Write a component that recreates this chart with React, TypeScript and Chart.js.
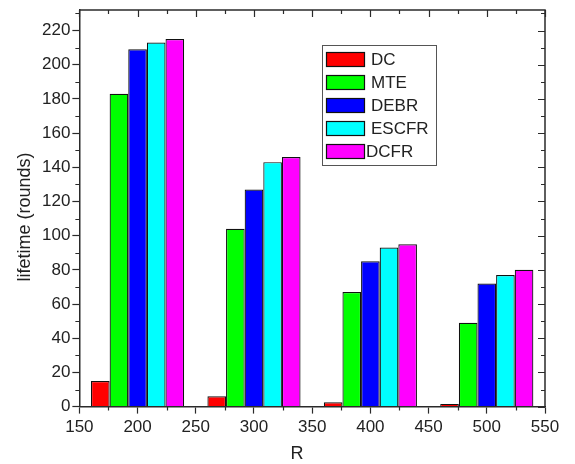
import React, { useEffect, useRef } from 'react';
import { Chart, registerables } from 'chart.js';

Chart.register(...registerables);

// ---- data ----
const R_VALUES = ['200', '300', '400', '500'];
const SERIES_NAMES = ['DC', 'MTE', 'DEBR', 'ESCFR', 'DCFR'];
const DC = [15, 6, 2.5, 1.5];
const MTE = [183, 104, 67, 49];
const DEBR = [209, 127, 85, 72];
const ESCFR = [213, 143, 93, 77];
const DCFR = [215, 146, 95, 80];
const SERIES_VALUES = [DC, MTE, DEBR, ESCFR, DCFR];
const SERIES_COLORS = ['#ff0000', '#00ff00', '#0000ff', '#00ffff', '#ff00ff'];

const X_TICKS = [150, 200, 250, 300, 350, 400, 450, 500, 550];
const X_MINOR = [175, 225, 275, 325, 375, 425, 475, 525];
const Y_TICKS = [0, 20, 40, 60, 80, 100, 120, 140, 160, 180, 200, 220];
const Y_MINOR = [10, 30, 50, 70, 90, 110, 130, 150, 170, 190, 210, 230];

const X_TITLE = 'R';
const Y_TITLE = 'lifetime (rounds)';

const FONT = "'Liberation Sans', Arial, sans-serif";
const AXIS_COLOR = '#2a2a2a';

const framePlugin = {
  id: 'frameAndExtras',
  afterDraw(chart: any) {
    const ctx = chart.ctx;
    const { left, right, top, bottom } = chart.chartArea;
    const xs = chart.scales.xv;
    const ys = chart.scales.y;
    ctx.save();
    ctx.strokeStyle = AXIS_COLOR;
    ctx.lineWidth = 1.5;
    ctx.beginPath();
    ctx.moveTo(left, top);
    ctx.lineTo(right, top);
    ctx.lineTo(right, bottom);
    ctx.stroke();
    ctx.lineWidth = 1.2;
    ctx.beginPath();
    for (const v of X_MINOR) {
      const p = Math.round(xs.getPixelForValue(v)) + 0.5;
      ctx.moveTo(p, bottom);
      ctx.lineTo(p, bottom + 4);
      ctx.moveTo(p, top);
      ctx.lineTo(p, top + 4);
    }
    for (const v of X_TICKS) {
      const p = Math.round(xs.getPixelForValue(v)) + 0.5;
      ctx.moveTo(p, top);
      ctx.lineTo(p, top + 7);
    }
    for (const v of Y_MINOR) {
      const p = Math.round(ys.getPixelForValue(v)) + 0.5;
      ctx.moveTo(left, p);
      ctx.lineTo(left - 4, p);
      ctx.moveTo(right, p);
      ctx.lineTo(right - 4, p);
    }
    for (const v of Y_TICKS) {
      const p = Math.round(ys.getPixelForValue(v)) + 0.5;
      ctx.moveTo(right, p);
      ctx.lineTo(right - 7, p);
    }
    ctx.stroke();

    // axis titles
    ctx.fillStyle = '#222';
    ctx.font = `18px ${FONT}`;
    ctx.textAlign = 'center';
    ctx.textBaseline = 'middle';
    ctx.fillText(X_TITLE, 297, 454);
    ctx.save();
    ctx.translate(25, 217);
    ctx.rotate(-Math.PI / 2);
    ctx.fillText(Y_TITLE, 0, 0);
    ctx.restore();

    // legend
    const lx = 322, ly = 45, lw = 114, lh = 120;
    ctx.fillStyle = '#ffffff';
    ctx.fillRect(lx, ly, lw, lh);
    ctx.strokeStyle = '#555';
    ctx.lineWidth = 1;
    ctx.strokeRect(lx + 0.5, ly + 0.5, lw, lh);
    ctx.font = `17px ${FONT}`;
    ctx.textAlign = 'left';
    ctx.textBaseline = 'middle';
    chart.data.datasets.forEach((ds: any, i: number) => {
      const sy = ly + 7 + i * 23;
      ctx.fillStyle = ds.backgroundColor;
      ctx.fillRect(lx + 4, sy, 39, 15);
      ctx.strokeStyle = '#111';
      ctx.lineWidth = 1.2;
      ctx.strokeRect(lx + 4.5, sy + 0.5, 38, 14);
      ctx.fillStyle = '#222';
      ctx.fillText(ds.label, i === 4 ? lx + 44 : lx + 49, sy + 8);
    });
    ctx.restore();
  },
};

export default function App() {
  const ref = useRef<HTMLCanvasElement | null>(null);
  useEffect(() => {
    if (!ref.current) return;
    const chart = new Chart(ref.current, {
      type: 'bar',
      data: {
        labels: R_VALUES,
        datasets: SERIES_NAMES.map((name, i) => ({
          label: name,
          data: SERIES_VALUES[i],
          backgroundColor: SERIES_COLORS[i],
          borderColor: '#111',
          borderWidth: 1.2,
          xAxisID: 'x',
          yAxisID: 'y',
          categoryPercentage: 0.8,
          barPercentage: 1.0,
        })),
      },
      options: {
        animation: false,
        responsive: false,
        maintainAspectRatio: false,
        layout: { padding: { left: 40, right: 30, top: 10, bottom: 22 } },
        plugins: { legend: { display: false }, tooltip: { enabled: false } },
        scales: {
          x: {
            type: 'category',
            display: false,
            offset: true,
          },
          xv: {
            type: 'linear',
            position: 'bottom',
            min: 150,
            max: 550,
            offset: false,
            afterBuildTicks: (s: any) => {
              s.ticks = X_TICKS.map((v) => ({ value: v }));
            },
            ticks: {
              font: { size: 17, family: FONT },
              color: '#222',
              padding: 4,
              maxRotation: 0,
              autoSkip: false,
            },
            grid: { offset: false, drawOnChartArea: false, tickLength: 7, color: AXIS_COLOR, tickWidth: 1.2 },
            border: { display: true, color: AXIS_COLOR, width: 1.5 },
          },
          y: {
            type: 'linear',
            min: 0,
            max: 232,
            afterBuildTicks: (s: any) => {
              s.ticks = Y_TICKS.map((v) => ({ value: v }));
            },
            ticks: {
              font: { size: 17, family: FONT, lineHeight: 0.8 },
              color: '#222',
              padding: 2,
              autoSkip: false,
            },
            grid: { drawOnChartArea: false, tickLength: 7, color: AXIS_COLOR, tickWidth: 1.2 },
            border: { display: true, color: AXIS_COLOR, width: 1.5 },
          },
        },
      },
      plugins: [framePlugin],
    });
    return () => chart.destroy();
  }, []);
  return (
    <div style={{ position: 'absolute', left: 0, top: 0, width: 575, height: 464, background: '#fff' }}>
      <canvas ref={ref} width={575} height={464} style={{ width: 575, height: 464 }} />
    </div>
  );
}
